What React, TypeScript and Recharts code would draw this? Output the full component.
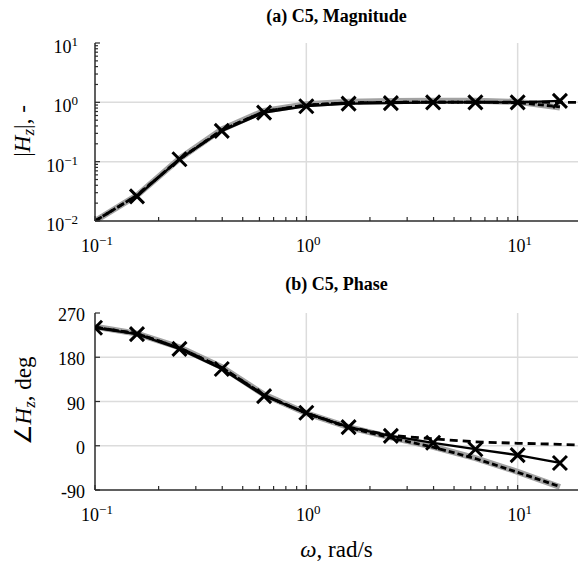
import React from 'react';
import { LineChart, Line, XAxis, YAxis, ReferenceLine } from 'recharts';

// frequencies, rad/s
const omega = [0.1, 0.158, 0.251, 0.398, 0.631, 1, 1.585, 2.512, 3.981, 6.31, 10, 15.85, 19.3];

// magnitude |Hz|
const magModel = [0.01, 0.027, 0.112, 0.35, 0.72, 0.93, 1.02, 1.05, 1.06, 1.06, 1.02, 0.82, null];
const magFit = [0.01, 0.027, 0.11, 0.34, 0.7, 0.9, 0.98, 1.0, 1.01, 1.01, 0.99, 0.84, null];
const magAlt = [0.01, 0.027, 0.11, 0.34, 0.7, 0.9, 0.98, 1.0, 1.01, 1.01, 1.01, 1.0, 1.0];
const magTest = [null, 0.026, 0.11, 0.33, 0.67, 0.86, 0.95, 0.97, 1.0, 1.0, 1.0, 1.06, null];

// phase, deg
const phaseModel = [242, 228, 200, 160, 104, 66, 38, 17, -2, -25, -53, -84, null];
const phaseFit = [241, 228, 199, 159, 103, 66, 37, 16, -3, -26, -54, -83, null];
const phaseAlt = [241, 228, 199, 159, 103, 66, 38, 21, 14, 8, 5, 3, 1.5];
const phaseTest = [240, 227, 197, 156, 101, 67, 38, 20, 6, -7, -19, -35, null];

const freqTicks = [0.1, 0.2, 0.3, 0.4, 0.5, 0.6, 0.7, 0.8, 0.9, 1, 2, 3, 4, 5, 6, 7, 8, 9, 10];
const magTicks = [
  0.01, 0.02, 0.03, 0.04, 0.05, 0.06, 0.07, 0.08, 0.09,
  0.1, 0.2, 0.3, 0.4, 0.5, 0.6, 0.7, 0.8, 0.9,
  1, 2, 3, 4, 5, 6, 7, 8, 9, 10,
];
const magMajor = [0.01, 0.1, 1, 10];
const phaseTicks = [-90, 0, 90, 180, 270];

const magData = omega.map((w, i) => ({
  w, model: magModel[i], fit: magFit[i], alt: magAlt[i], test: magTest[i],
}));
const phaseData = omega.map((w, i) => ({
  w, model: phaseModel[i], fit: phaseFit[i], alt: phaseAlt[i], test: phaseTest[i],
}));

const SERIF = '"Liberation Serif", "Times New Roman", serif';
const AXIS = '#2b2b2b';
const GRID = '#dcdcdc';
const W = 579;
const PLOT_L = 95;
const PLOT_R = 1;
const CENTER_X = (PLOT_L + W - PLOT_R) / 2;

const decade = (v: number) => {
  const l = Math.log10(v);
  return Math.abs(l - Math.round(l)) < 1e-6 ? Math.round(l) : null;
};
const expText = (e: number) => (e < 0 ? '\u2212' + Math.abs(e) : String(e));

const Pow10 = ({ x, y, e, anchor }: any) => (
  <text x={x} y={y} textAnchor={anchor} fontFamily={SERIF} fontSize={18} fill="#000">
    10<tspan dy={-7} fontSize={13}>{expText(e)}</tspan>
  </text>
);

const FreqTick = (props: any) => {
  const { x, y, payload, side } = props;
  const e = decade(payload.value);
  const dir = side === 'top' ? 1 : -1;
  const len = e !== null ? 5 : 4;
  return (
    <g>
      <line x1={x} y1={y} x2={x} y2={y + dir * len} stroke={AXIS} strokeWidth={1.2} />
      {side === 'bottom' && e !== null && <Pow10 x={x + 2} y={y + 31} e={e} anchor="middle" />}
    </g>
  );
};

const MagTick = (props: any) => {
  const { x, y, payload } = props;
  const e = decade(payload.value);
  return (
    <g>
      <line x1={x} y1={y} x2={x + (e !== null ? 5 : 3)} y2={y} stroke={AXIS} strokeWidth={1.2} />
      {e !== null && <Pow10 x={x - 17} y={y + 10} e={e} anchor="end" />}
    </g>
  );
};

const PhaseTick = (props: any) => {
  const { x, y, payload } = props;
  return (
    <g>
      <line x1={x} y1={y} x2={x + 5} y2={y} stroke={AXIS} strokeWidth={1.2} />
      <text x={x - 10} y={y + 8} textAnchor="end" fontFamily={SERIF} fontSize={18} fill="#000">
        {payload.value}
      </text>
    </g>
  );
};

const RightTick = (props: any) => {
  const { x, y } = props;
  return <line x1={x} y1={y} x2={x - 5} y2={y} stroke={AXIS} strokeWidth={1.2} />;
};

const Cross = (props: any) => {
  const { cx, cy, value, index } = props;
  if (value == null || cx == null || cy == null) return <g key={`n${index}`} />;
  const s = 7;
  return (
    <path
      key={`c${index}`}
      d={`M${cx - s},${cy - s}L${cx + s},${cy + s}M${cx - s},${cy + s}L${cx + s},${cy - s}`}
      stroke="#000"
      strokeWidth={3}
      fill="none"
    />
  );
};

// y-axis title plus the panel heading above the plot
const MagTitles = () => (
  <g>
    <text x={CENTER_X} y={22} textAnchor="middle" fontFamily={SERIF} fontSize={18} fontWeight="bold" fill="#000">
      (a) C5, Magnitude
    </text>
    <text transform="translate(30,131) rotate(-90)" textAnchor="middle" fontFamily={SERIF} fontSize={23} fill="#000">
      |<tspan fontStyle="italic">H</tspan>
      <tspan fontStyle="italic" fontSize={17} dy={4}>z</tspan>
      <tspan dy={-4}>|, -</tspan>
    </text>
  </g>
);

const PhaseTitles = () => (
  <g>
    <text x={CENTER_X} y={28} textAnchor="middle" fontFamily={SERIF} fontSize={18} fontWeight="bold" fill="#000">
      (b) C5, Phase
    </text>
    <text transform="translate(31,139) rotate(-90)" textAnchor="middle" fontFamily={SERIF} fontSize={23} fill="#000">
      {'\u2220'}<tspan fontStyle="italic">H</tspan>
      <tspan fontStyle="italic" fontSize={17} dy={4}>z</tspan>
      <tspan dy={-4}>, deg</tspan>
    </text>
  </g>
);

const OmegaTitle = () => (
  <text x={CENTER_X} y={295} textAnchor="middle" fontFamily={SERIF} fontSize={23} fill="#000">
    <tspan fontStyle="italic">{'\u03c9'}</tspan>, rad/s
  </text>
);

const axisLine = { stroke: AXIS, strokeWidth: 1.5 };
const rightLine = { stroke: AXIS, strokeWidth: 1.2, strokeDasharray: '1.5 2' };

const series = (keyPrefix: string) => [
  <Line key={keyPrefix + 'm'} dataKey="model" stroke="#a3a3a3" strokeWidth={6} dot={false} isAnimationActive={false} />,
  <Line key={keyPrefix + 'f'} dataKey="fit" stroke="#000" strokeWidth={2.8} strokeDasharray="6 3" dot={false} isAnimationActive={false} />,
  <Line key={keyPrefix + 'a'} dataKey="alt" stroke="#000" strokeWidth={2.8} strokeDasharray="8 5" dot={false} isAnimationActive={false} />,
  <Line key={keyPrefix + 't'} dataKey="test" stroke="#000" strokeWidth={2.3} dot={Cross} activeDot={false} isAnimationActive={false} />,
];

export default function App() {
  return (
    <div style={{ position: 'absolute', left: 0, top: 0, width: W, height: 566, background: '#fff' }}>
      <LineChart width={W} height={262} data={magData} margin={{ top: 43, right: PLOT_R, left: 0, bottom: 0 }}>
        <XAxis
          dataKey="w" type="number" scale="log" domain={[0.1, 19.3]} allowDataOverflow
          ticks={freqTicks} interval={0} height={41} tickSize={0} tickMargin={0}
          tickLine={false} axisLine={axisLine} tick={(p: any) => <FreqTick {...p} side="bottom" />}
        />
        <XAxis
          xAxisId="top" orientation="top" dataKey="w" type="number" scale="log" domain={[0.1, 19.3]} allowDataOverflow
          ticks={freqTicks} interval={0} height={0} tickSize={0} tickMargin={0}
          tickLine={false} axisLine={axisLine} tick={(p: any) => <FreqTick {...p} side="top" />}
        />
        <YAxis
          type="number" scale="log" domain={[0.01, 10]} allowDataOverflow ticks={magTicks} interval={0}
          width={PLOT_L} tickSize={0} tickMargin={0} tickLine={false} axisLine={axisLine}
          tick={MagTick} label={<MagTitles />}
        />
        <YAxis
          yAxisId="r" orientation="right" type="number" scale="log" domain={[0.01, 10]} allowDataOverflow
          ticks={magMajor} interval={0} width={0} tickSize={0} tickMargin={0} tickLine={false}
          axisLine={rightLine} tick={RightTick}
        />
        <ReferenceLine x={1} stroke={GRID} strokeWidth={1.5} />
        <ReferenceLine x={10} stroke={GRID} strokeWidth={1.5} />
        <ReferenceLine y={0.1} stroke={GRID} strokeWidth={1.5} />
        <ReferenceLine y={1} stroke={GRID} strokeWidth={1.5} />
        {series('mag')}
      </LineChart>
      <LineChart width={W} height={304} data={phaseData} margin={{ top: 51, right: PLOT_R, left: 0, bottom: 0 }}>
        <XAxis
          dataKey="w" type="number" scale="log" domain={[0.1, 19.3]} allowDataOverflow
          ticks={freqTicks} interval={0} height={76} tickSize={0} tickMargin={0}
          tickLine={false} axisLine={axisLine} tick={(p: any) => <FreqTick {...p} side="bottom" />}
          label={<OmegaTitle />}
        />
        <XAxis
          xAxisId="top" orientation="top" dataKey="w" type="number" scale="log" domain={[0.1, 19.3]} allowDataOverflow
          ticks={freqTicks} interval={0} height={0} tickSize={0} tickMargin={0}
          tickLine={false} axisLine={axisLine} tick={(p: any) => <FreqTick {...p} side="top" />}
        />
        <YAxis
          type="number" domain={[-90, 270]} allowDataOverflow ticks={phaseTicks} interval={0}
          width={PLOT_L} tickSize={0} tickMargin={0} tickLine={false} axisLine={axisLine}
          tick={PhaseTick} label={<PhaseTitles />}
        />
        <YAxis
          yAxisId="r" orientation="right" type="number" domain={[-90, 270]} allowDataOverflow
          ticks={phaseTicks} interval={0} width={0} tickSize={0} tickMargin={0} tickLine={false}
          axisLine={rightLine} tick={RightTick}
        />
        <ReferenceLine x={1} stroke={GRID} strokeWidth={1.5} />
        <ReferenceLine x={10} stroke={GRID} strokeWidth={1.5} />
        <ReferenceLine y={0} stroke={GRID} strokeWidth={1.5} />
        <ReferenceLine y={90} stroke={GRID} strokeWidth={1.5} />
        <ReferenceLine y={180} stroke={GRID} strokeWidth={1.5} />
        {series('ph')}
      </LineChart>
    </div>
  );
}
